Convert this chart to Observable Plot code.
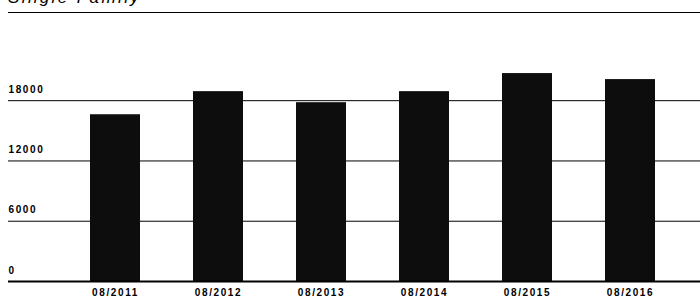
<!DOCTYPE html>
<html>
<head>
<meta charset="utf-8">
<script src="https://cdn.jsdelivr.net/npm/d3@7"></script>
<script src="https://cdn.jsdelivr.net/npm/@observablehq/plot@0.6"></script>
<style>
  html, body { margin: 0; padding: 0; background: #fff; }
  #wrap { position: relative; width: 700px; height: 306px; overflow: hidden; background: #fff; }
  #chart { position: absolute; left: 0; top: 0; }
  #chart svg { font-family: "Liberation Sans", Arial, sans-serif; background: transparent; }
  #title { position: absolute; left: 8px; top: -11px; font-family: "Liberation Sans", Arial, sans-serif;
           font-style: italic; font-size: 17px; line-height: 17px; letter-spacing: 2.4px; color: #000; white-space: nowrap; z-index: 2; }
  #topline { position: absolute; left: 8px; right: 0; top: 12px; height: 1px; background: #000; z-index: 2; }
</style>
</head>
<body>
<div id="wrap">
  <div id="chart"></div>
  <div id="title">Single Family</div>
  <div id="topline"></div>
</div>
<script>
const categories = ["08/2011", "08/2012", "08/2013", "08/2014", "08/2015", "08/2016"];
const values = [16600, 18900, 17800, 18900, 20700, 20100];
const yTicks = [0, 6000, 12000, 18000];

const data = categories.map((c, i) => ({ period: c, value: values[i] }));

const plot = Plot.plot({
  width: 700,
  height: 306,
  marginLeft: 8,
  marginRight: 0,
  marginTop: 60,
  marginBottom: 25,
  style: { fontSize: "10px", fontWeight: "bold", letterSpacing: "1.6px", color: "#000", background: "transparent" },
  x: { domain: categories, paddingInner: 0.51, paddingOuter: 0.595, align: 0.65 },
  y: { domain: [0, 22000] },
  marks: [
    Plot.ruleY(yTicks.filter(d => d > 0), { stroke: "#000", strokeWidth: 1 }),
    Plot.barY(data, { x: "period", y: "value", fill: "#0d0d0d" }),
    Plot.ruleY([0], { stroke: "#000", strokeWidth: 2 }),
    Plot.text(yTicks, { y: d => d, text: d => String(d), frameAnchor: "left", textAnchor: "start", dy: -11, fill: "#000" }),
    Plot.axisX({ tickSize: 0, tickPadding: 7, label: null, fill: "#000" }),
    Plot.axisY({ ticks: [], label: null })
  ]
});
document.getElementById("chart").appendChild(plot);
</script>
</body>
</html>
